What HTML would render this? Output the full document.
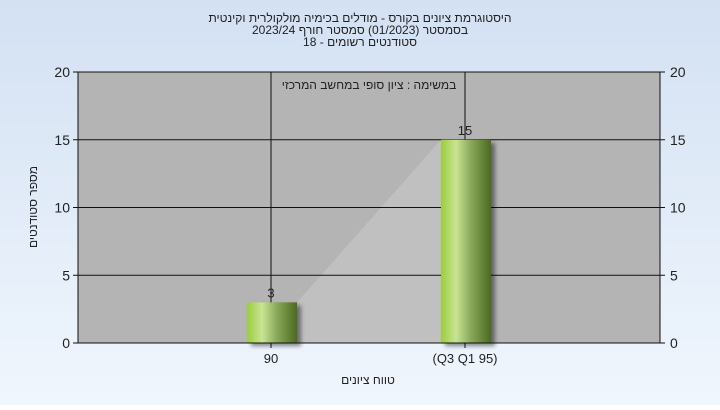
<!DOCTYPE html>
<html><head><meta charset="utf-8"><style>
body{margin:0;width:720px;height:405px;overflow:hidden;font-family:"Liberation Sans",sans-serif}
</style></head><body>
<svg width="720" height="405" xmlns="http://www.w3.org/2000/svg" font-family="Liberation Sans, sans-serif">
<defs>
<linearGradient id="bg" x1="0" y1="0" x2="0" y2="1"><stop offset="0" stop-color="#d3e1f3"/><stop offset="1" stop-color="#f0f6fd"/></linearGradient>
<linearGradient id="bar" x1="0" y1="0" x2="1" y2="0"><stop offset="0" stop-color="#9ccc3c"/><stop offset="0.3" stop-color="#c8e494"/><stop offset="0.6" stop-color="#8aa85a"/><stop offset="1" stop-color="#4b6a20"/></linearGradient>
<filter id="sh" x="-20%" y="-20%" width="150%" height="140%"><feDropShadow dx="4" dy="3" stdDeviation="2" flood-color="#000" flood-opacity="0.45"/></filter>
</defs>
<rect width="720" height="405" fill="url(#bg)"/>
<g font-size="12" fill="#222" text-anchor="middle">
<text x="360" y="22">היסטוגרמת ציונים בקורס - מודלים בכימיה מולקולרית וקינטית</text>
<text x="360" y="34">בסמסטר  (01/2023)  סמסטר חורף 2023/24</text>
<text x="360" y="46">סטודנטים רשומים - 18</text>
</g>
<rect x="78" y="72" width="582" height="271" fill="#b4b4b4"/>
<g id="g"></g>
<rect x="78" y="72" width="582" height="271" fill="none" stroke="#111" stroke-width="1"/>
<text x="369" y="89" font-size="12" text-anchor="middle" fill="#222">במשימה : ציון סופי במחשב המרכזי</text>
<text transform="translate(37,207) rotate(-90)" font-size="12" text-anchor="middle" fill="#222">מספר סטודנטים</text>
<text x="368" y="384" font-size="12" text-anchor="middle" fill="#222">טווח ציונים</text>
</svg>
<script>
const categories=["90","(Q3 Q1 95)"];
const values=[3,15];
const yTicks=[0,5,10,15,20];
const NS="http://www.w3.org/2000/svg";
const g=document.getElementById('g');
const x0=78,x1=660,y0=343,y1=72,ymax=20;
const ys=v=>y0-(v/ymax)*(y0-y1);
const cx=i=>271+i*194;
function mk(t,a){const e=document.createElementNS(NS,t);for(const k in a)e.setAttribute(k,a[k]);g.appendChild(e);return e;}
// area behind bars
const pts=values.map((v,i)=>[cx(i)+(i==0?26:-24),ys(v)]);
const area=mk('polygon',{points:`${pts[0][0]},${y0} ${pts[0][0]},${pts[0][1]} ${pts[1][0]},${pts[1][1]} ${pts[1][0]},${y0}`,fill:'#c0c0c0'});


yTicks.forEach(t=>{const y=ys(t);
 if(t>0&&t<ymax){const l=mk('line',{x1:x0,x2:x1,y1:y,y2:y,stroke:'#111','stroke-width':1});}
 mk('line',{x1:x0-5,x2:x0,y1:y,y2:y,stroke:'#111'});mk('line',{x1:x1,x2:x1+5,y1:y,y2:y,stroke:'#111'});
 const a=mk('text',{x:x0-8,y:y+5,'font-size':14,'text-anchor':'end',fill:'#222'});a.textContent=t;
 const b=mk('text',{x:x1+10,y:y+5,'font-size':14,fill:'#222'});b.textContent=t;
});
categories.forEach((c,i)=>{const x=cx(i);
 const vl=mk('line',{x1:x,x2:x,y1:y1,y2:y0+5,stroke:'#111'});
 const r=mk('rect',{x:x-24,y:ys(values[i]),width:50,height:y0-ys(values[i]),fill:'url(#bar)',filter:'url(#sh)'});
 
 
 const v=mk('text',{x:x,y:ys(values[i])-5,'font-size':13,'text-anchor':'middle',fill:'#222'});v.textContent=values[i];
 
 
 const t=mk('text',{x:x,y:363,'font-size':13,'text-anchor':'middle',fill:'#222'});t.textContent=c;
 
 
});
</script>
</body></html>
